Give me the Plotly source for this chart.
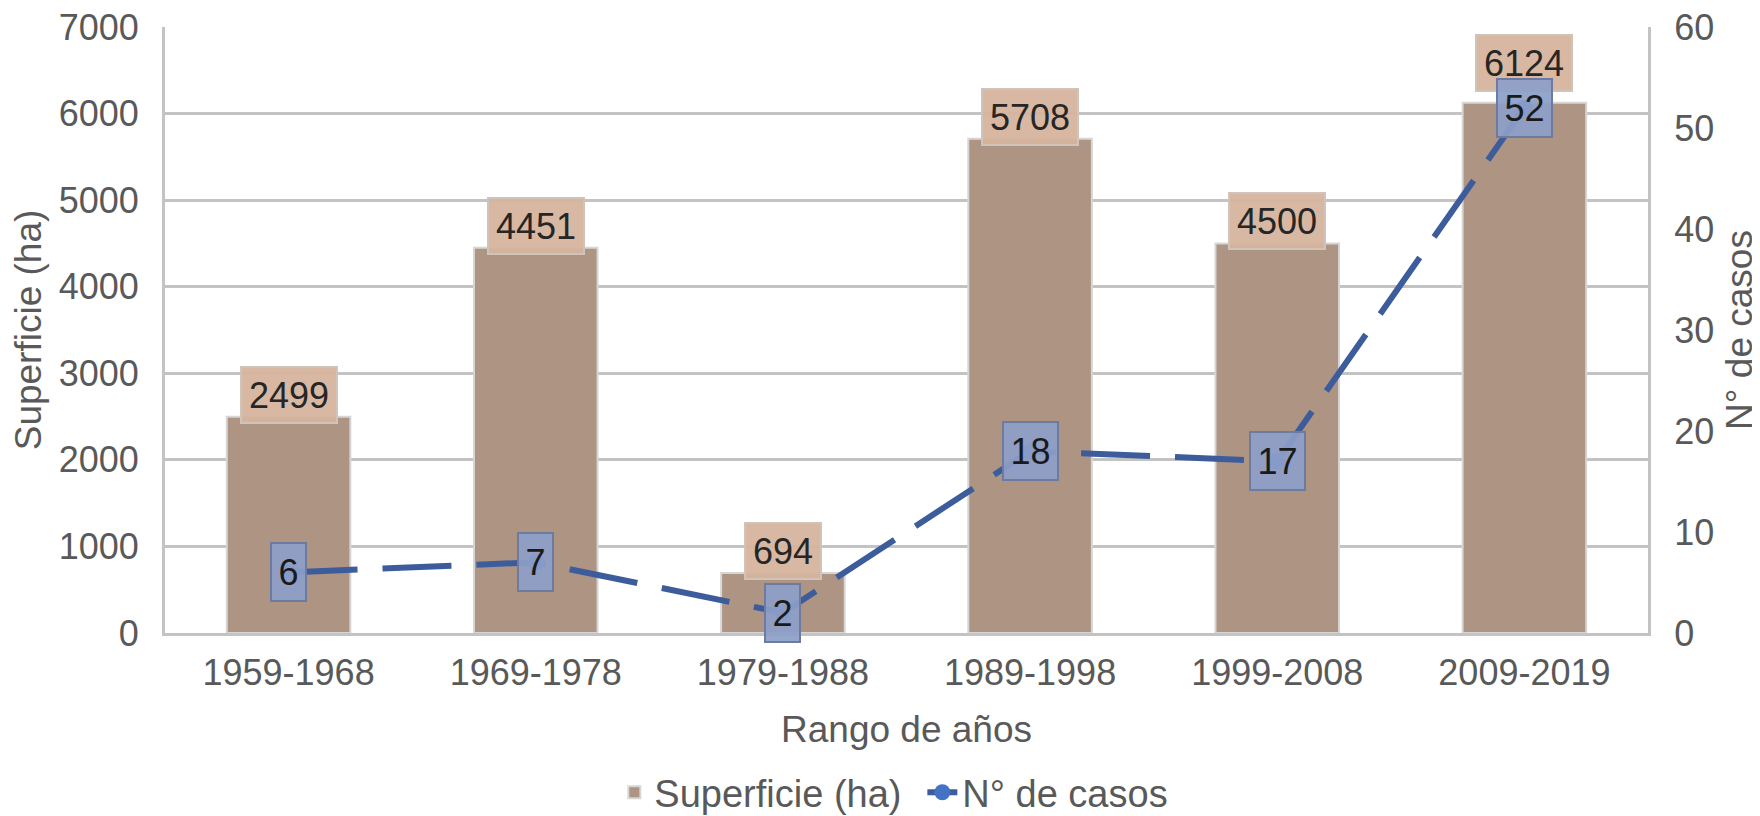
import plotly.graph_objects as go

categories = ["1959-1968", "1969-1978", "1979-1988", "1989-1998", "1999-2008", "2009-2019"]
superficie = [2499, 4451, 694, 5708, 4500, 6124]
casos = [6, 7, 2, 18, 17, 52]
y1_ticks = [0, 1000, 2000, 3000, 4000, 5000, 6000, 7000]
y2_ticks = [0, 10, 20, 30, 40, 50, 60]

FONT = "Liberation Sans, Arial, sans-serif"
TXT = "#595959"
GRID = "#C3C3C3"
BAR = "#AE9482"
LINE = "#3D5C9C"
FS = 36      # tick labels / data labels
FT = 37      # axis titles
FL = 38      # legend

fig = go.Figure()
fig.add_trace(go.Bar(
    x=categories, y=superficie, name="Superficie (ha)",
    marker=dict(color=BAR, line=dict(color="#D6D6D6", width=2)),
    width=0.5, yaxis="y",
))
fig.add_trace(go.Scatter(
    x=categories, y=casos, name="N° de casos", yaxis="y2",
    mode="lines+markers",
    line=dict(color=LINE, width=6, dash="69px,25px"),
    marker=dict(color="#4472C4", size=16, symbol="circle"),
))

annotations = []
maxv = max(superficie)
for c, v in zip(categories, superficie):
    annotations.append(dict(
        x=c, y=v, xref="x", yref="y", text=str(v), showarrow=False,
        yshift=40 if v == maxv else 22,
        width=len(str(v)) * 20 + 2, height=42,
        font=dict(family=FONT, size=FS, color="#262626"),
        bgcolor="rgba(214,180,158,0.95)", bordercolor="#CFC3BA", borderwidth=2, borderpad=6,
    ))
for c, v in zip(categories, casos):
    annotations.append(dict(
        x=c, y=v, xref="x", yref="y2", text=str(v), showarrow=False,
        width=len(str(v)) * 20 + 1, height=44,
        font=dict(family=FONT, size=FS, color="#1a1a1a"),
        bgcolor="rgba(140,158,200,0.92)", bordercolor="#6E7BA0", borderwidth=2, borderpad=6,
    ))

fig.update_layout(
    width=1752, height=808,
    margin=dict(l=157, r=112, t=19, b=183, autoexpand=False),
    paper_bgcolor="white", plot_bgcolor="white",
    font=dict(family=FONT, size=FS, color=TXT),
    showlegend=True,
    legend=dict(orientation="h", x=0.303, xanchor="left",
                yref="container", y=0.029, yanchor="middle",
                font=dict(family=FONT, size=FL, color=TXT),
                itemwidth=30, entrywidth=263, entrywidthmode="pixels",
                traceorder="normal"),
    xaxis=dict(
        showline=True, linecolor=GRID, linewidth=3, mirror=False,
        showgrid=False, ticks="", tickfont=dict(size=FS, color=TXT),
        ticklabelstandoff=6,
        title=dict(text="Rango de años", font=dict(size=FT, color=TXT), standoff=24),
    ),
    yaxis=dict(
        range=[0, 7000], tickvals=y1_ticks, showgrid=True, gridcolor=GRID, gridwidth=3,
        showline=True, linecolor=GRID, linewidth=3, zeroline=False, ticks="",
        tickfont=dict(size=FS, color=TXT), ticklabelstandoff=16, ticklabeloverflow="allow",
        title=dict(text="Superficie (ha)", font=dict(size=FT, color=TXT), standoff=12),
    ),
    yaxis2=dict(
        range=[0, 60], tickvals=y2_ticks, overlaying="y", side="right",
        showgrid=False, showline=True, linecolor=GRID, linewidth=3, zeroline=False, ticks="",
        tickfont=dict(size=FS, color=TXT), ticklabelstandoff=16, ticklabeloverflow="allow",
        title=dict(text="N° de casos", font=dict(size=FT, color=TXT), standoff=14),
    ),
    annotations=annotations,
)

fig.write_html("out.html")
